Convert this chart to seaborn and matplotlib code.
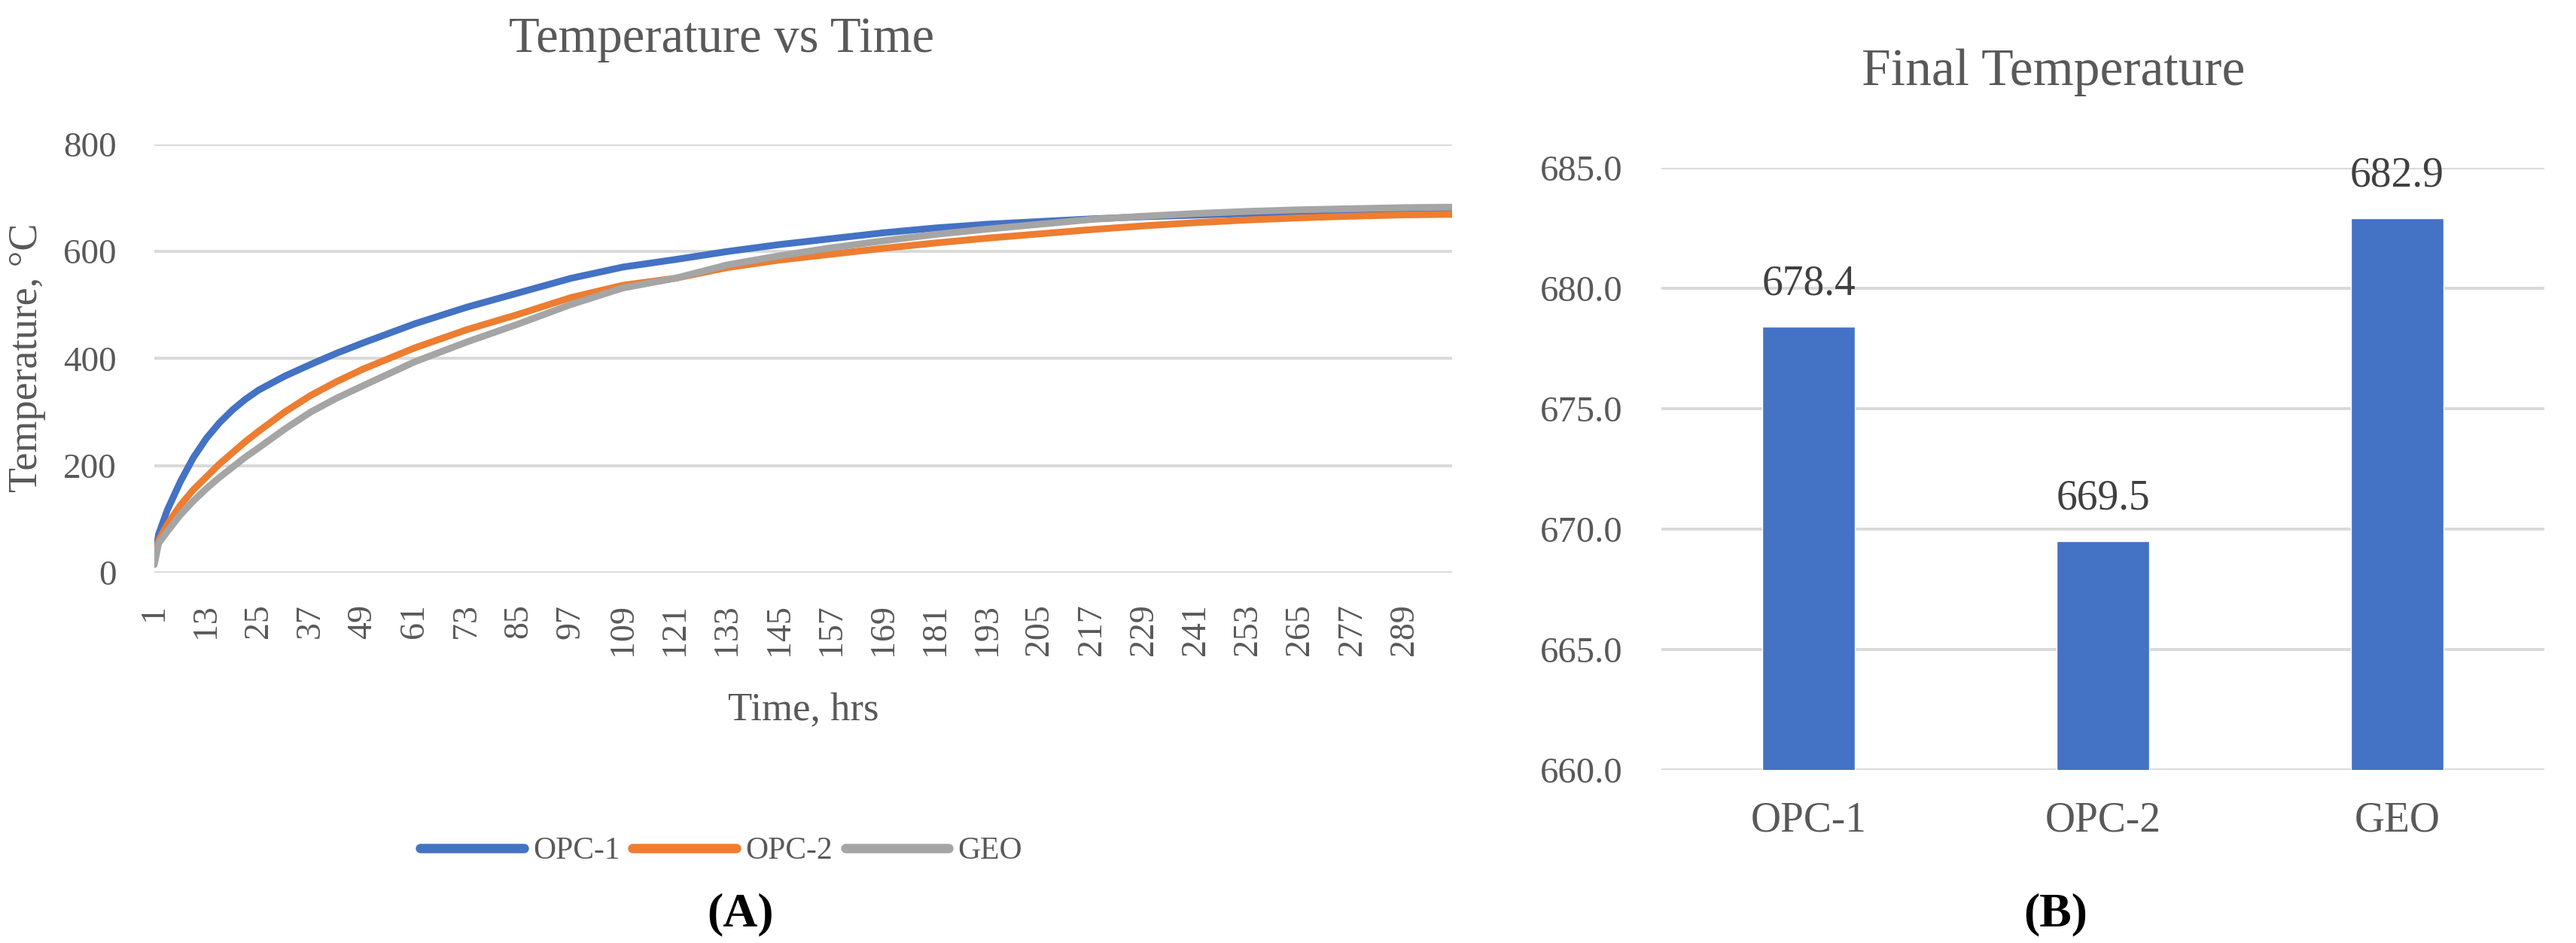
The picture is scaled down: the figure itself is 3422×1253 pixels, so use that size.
import pandas as pd
import matplotlib
matplotlib.use("Agg")
import matplotlib.pyplot as plt
import seaborn as sns

# hourly temperature readings, picked off the curves
hours = [1, 2, 4, 7, 10, 13, 16, 19, 22, 25, 31, 37, 43, 49, 61, 73, 85, 97, 109, 121, 133,
         145, 157, 169, 181, 193, 205, 217, 229, 241, 253, 265, 277, 289, 300]
opc1 = [22, 72, 117, 170, 215, 251, 280, 304, 324, 341, 367, 389, 410, 429, 465, 496, 523, 550, 571, 585, 600,
        613, 624, 635, 644, 651, 656, 661, 665, 668, 671, 674, 676, 677.5, 678.4]
opc2 = [20, 60, 90, 126, 155, 179, 203, 224, 245, 264, 300, 331, 357, 380, 420, 454, 483, 514, 537, 550, 570,
        584, 595, 606, 616, 625, 633, 641, 648, 654, 659, 663, 666, 668.5, 669.5]
geo = [15, 55, 77, 108, 134, 157, 178, 197, 216, 233, 268, 300, 326, 349, 394, 431, 465, 501, 532, 550, 575,
       592, 607, 620, 632, 642, 651, 660, 666, 671, 675, 678, 680, 682, 682.9]
series_names = ["OPC-1", "OPC-2", "GEO"]
series_colors = ["#4472C4", "#ED7D31", "#A5A5A5"]
time_ticks = list(range(1, 290, 12))

# final temperatures
mixes = ["OPC-1", "OPC-2", "GEO"]
final_temp = [678.4, 669.5, 682.9]

sns.set_theme(style="white")
plt.rcParams["font.family"] = ["Liberation Serif", "DejaVu Serif"]
txt = "#595959"
grid = "#D9D9D9"

df = pd.DataFrame({
    "Hour": hours * 3,
    "Temp": opc1 + opc2 + geo,
    "Mix": ["OPC-1"] * len(hours) + ["OPC-2"] * len(hours) + ["GEO"] * len(hours),
})

fig = plt.figure(figsize=(34.22, 12.53), dpi=100)

# ---- (A) temperature vs time
ax1 = fig.add_axes([0.0599, 0.3927, 0.5038, 0.4541])
sns.lineplot(data=df, x="Hour", y="Temp", hue="Mix", hue_order=series_names,
             palette=series_colors, linewidth=6.5, ax=ax1, legend=False, sort=False)
for ln in ax1.lines:
    ln.set_solid_capstyle("round")
    ln.set_solid_joinstyle("round")
ax1.set_xlim(1, 300)
ax1.set_ylim(0, 800)
ax1.set_yticks([0, 200, 400, 600, 800])
ax1.set_xticks(time_ticks)
ax1.set_xticklabels([str(t) for t in time_ticks], rotation=90, va="top", ha="center")
ax1.yaxis.grid(True, color=grid, linewidth=2.8)
ax1.set_axisbelow(True)
for s in ax1.spines.values():
    s.set_visible(False)
ax1.tick_params(axis="y", labelsize=34, colors=txt, length=0, pad=36)
ax1.tick_params(axis="x", labelsize=33, colors=txt, length=0, pad=30)
ax1.set_xlabel("")
ax1.set_ylabel("")
fig.text(0.3118, 0.247, "Time, hrs", fontsize=38, color=txt, ha="center", va="center")
fig.text(0.0105, 0.621, "Temperature, °C", fontsize=39, color=txt, ha="center", va="center",
         rotation=90)
fig.text(0.28, 0.958, "Temperature vs Time", fontsize=48, color=txt, ha="center", va="center")

handles = [plt.Line2D([], [], color=c, linewidth=9, solid_capstyle="round") for c in series_colors]
fig.legend(handles, series_names, loc="center", bbox_to_anchor=(0.28, 0.0974), ncol=3,
           frameon=False, fontsize=30, handlelength=3.3, handletextpad=0.3,
           columnspacing=0.4, labelcolor=txt)
fig.text(0.2875, 0.030, "(A)", fontsize=46, fontweight="bold", color="black",
         ha="center", va="center")

# ---- (B) final temperature
ax2 = fig.add_axes([0.645, 0.1836, 0.3427, 0.6384])
sns.barplot(x=mixes, y=final_temp, color="#4472C4", saturation=1, width=0.314, ax=ax2)
ax2.set_ylim(660, 685)
ax2.set_yticks([660, 665, 670, 675, 680, 685])
ax2.set_yticklabels([f"{v:.1f}" for v in [660, 665, 670, 675, 680, 685]])
ax2.yaxis.grid(True, color=grid, linewidth=2.8)
ax2.set_axisbelow(True)
for s in ax2.spines.values():
    s.set_visible(False)
ax2.tick_params(axis="y", labelsize=35, colors=txt, length=0, pad=37)
ax2.tick_params(axis="x", labelsize=40, colors=txt, length=0, pad=30)
ax2.bar_label(ax2.containers[0], fmt="%.1f", fontsize=40, color="#404040", padding=22)
fig.text(0.797, 0.923, "Final Temperature", fontsize=50, color=txt, ha="center", va="center")
fig.text(0.798, 0.030, "(B)", fontsize=46, fontweight="bold", color="black",
         ha="center", va="center")

fig.savefig("out.png", dpi=100, facecolor="white")
